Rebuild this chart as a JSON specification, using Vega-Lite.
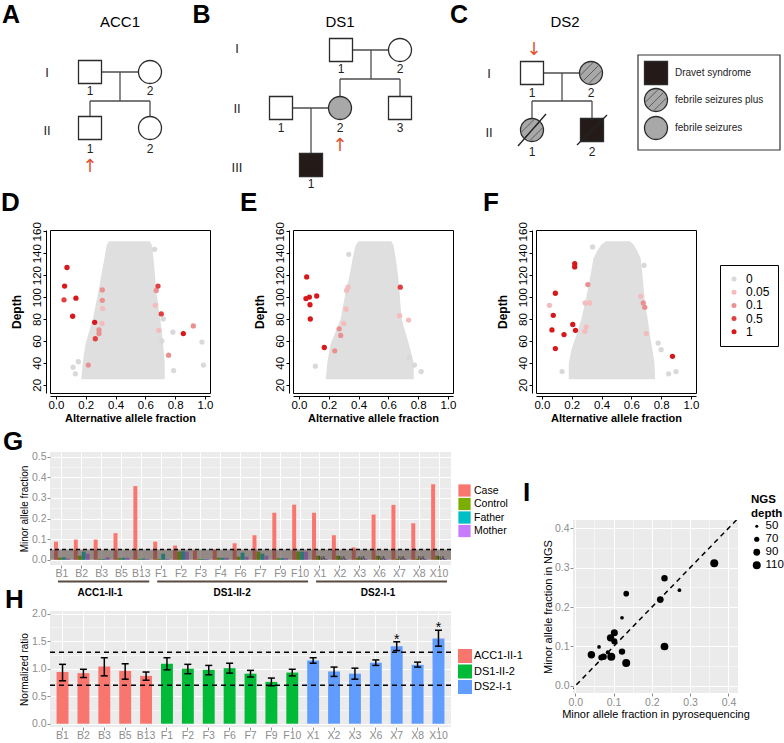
{
"$schema":"https://vega.github.io/schema/vega-lite/v6.json",
"background":"white",
"padding":0,
"spacing":-2,
"config":{
 "font":"Liberation Sans",
 "view":{"stroke":null},
 "title":{"fontSize":26,"fontWeight":"bold","anchor":"start","frame":"group","baseline":"alphabetic","color":"black","font":"Liberation Sans"},
 "axis":{"labelFont":"Liberation Sans","titleFont":"Liberation Sans","labelOverlap":false},
 "legend":{"labelFont":"Liberation Sans","titleFont":"Liberation Sans"}
},
"resolve":{"scale":{"color":"independent","size":"independent","shape":"independent","fill":"independent"},"legend":{"color":"independent","size":"independent","shape":"independent","fill":"independent"}},
"datasets":{
 "pedMembers":[
  {"x":9.1,"y":7.2,"sex":"male","st":"none"},
  {"x":15.1,"y":7.2,"sex":"female","st":"none"},
  {"x":9.1,"y":12.8,"sex":"male","st":"none"},
  {"x":15.1,"y":12.8,"sex":"female","st":"none"},
  {"x":34.2,"y":5.0,"sex":"male","st":"none"},
  {"x":40.1,"y":5.0,"sex":"female","st":"none"},
  {"x":28.2,"y":10.8,"sex":"male","st":"none"},
  {"x":34.1,"y":10.8,"sex":"female","st":"FS"},
  {"x":40.1,"y":10.8,"sex":"male","st":"none"},
  {"x":31.2,"y":16.5,"sex":"male","st":"DS"},
  {"x":53.3,"y":7.3,"sex":"male","st":"none"},
  {"x":59.2,"y":7.3,"sex":"female","st":"FSplus"},
  {"x":53.3,"y":13.0,"sex":"female","st":"FSplus"},
  {"x":59.3,"y":13.0,"sex":"male","st":"DS"},
  {"x":65.7,"y":7.3,"sex":"male","st":"DS"},
  {"x":65.7,"y":10.0,"sex":"female","st":"FSplus"},
  {"x":65.7,"y":12.8,"sex":"female","st":"FS"}
 ],
 "pedLines":[
  {"kind":"conn","x1":10.3,"y1":7.2,"x2":13.9,"y2":7.2},
  {"kind":"conn","x1":12.1,"y1":7.2,"x2":12.1,"y2":10.1},
  {"kind":"conn","x1":9.1,"y1":10.1,"x2":15.1,"y2":10.1},
  {"kind":"conn","x1":9.1,"y1":10.1,"x2":9.1,"y2":11.65},
  {"kind":"conn","x1":15.1,"y1":10.1,"x2":15.1,"y2":11.65},
  {"kind":"conn","x1":35.35,"y1":5.0,"x2":38.95,"y2":5.0},
  {"kind":"conn","x1":37.2,"y1":5.0,"x2":37.2,"y2":7.9},
  {"kind":"conn","x1":34.1,"y1":7.9,"x2":40.1,"y2":7.9},
  {"kind":"conn","x1":34.1,"y1":7.9,"x2":34.1,"y2":9.65},
  {"kind":"conn","x1":40.1,"y1":7.9,"x2":40.1,"y2":9.65},
  {"kind":"conn","x1":29.35,"y1":10.8,"x2":32.95,"y2":10.8},
  {"kind":"conn","x1":31.2,"y1":10.8,"x2":31.2,"y2":15.35},
  {"kind":"conn","x1":54.45,"y1":7.3,"x2":58.05,"y2":7.3},
  {"kind":"conn","x1":56.3,"y1":7.3,"x2":56.3,"y2":10.1},
  {"kind":"conn","x1":53.3,"y1":10.1,"x2":59.3,"y2":10.1},
  {"kind":"conn","x1":53.3,"y1":10.1,"x2":53.3,"y2":11.85},
  {"kind":"conn","x1":59.3,"y1":10.1,"x2":59.3,"y2":11.85},
  {"kind":"hatch","x1":58.45,"y1":8.05,"x2":59.95,"y2":6.55},
  {"kind":"hatch","x1":58.99,"y1":8.35,"x2":60.25,"y2":7.09},
  {"kind":"hatch","x1":58.15,"y1":7.51,"x2":59.41,"y2":6.25},
  {"kind":"hatch","x1":52.55,"y1":13.75,"x2":54.05,"y2":12.25},
  {"kind":"hatch","x1":53.09,"y1":14.05,"x2":54.35,"y2":12.79},
  {"kind":"hatch","x1":52.25,"y1":13.21,"x2":53.51,"y2":11.95},
  {"kind":"hatch","x1":64.95,"y1":10.75,"x2":66.45,"y2":9.25},
  {"kind":"hatch","x1":65.49,"y1":11.05,"x2":66.75,"y2":9.79},
  {"kind":"hatch","x1":64.65,"y1":10.21,"x2":65.91,"y2":8.95},
  {"kind":"slash","x1":51.9,"y1":14.6,"x2":54.7,"y2":11.4},
  {"kind":"slash","x1":57.8,"y1":14.5,"x2":60.8,"y2":11.5}
 ],
 "pedBox":[{"x1":63.9,"y1":5.5,"x2":78.1,"y2":15.0}],
 "pedTexts":[
  {"kind":"letter","label":"A","x":1.2,"y":2.3},
  {"kind":"letter","label":"B","x":20.25,"y":2.3},
  {"kind":"letter","label":"C","x":46.0,"y":2.3},
  {"kind":"title","label":"ACC1","x":12.1,"y":2.7},
  {"kind":"title","label":"DS1","x":34.1,"y":2.7},
  {"kind":"title","label":"DS2","x":56.6,"y":2.7},
  {"kind":"gen","label":"I","x":4.8,"y":7.7},
  {"kind":"gen","label":"II","x":4.8,"y":13.5},
  {"kind":"gen","label":"I","x":23.8,"y":5.3},
  {"kind":"gen","label":"II","x":23.8,"y":11.3},
  {"kind":"gen","label":"III","x":23.8,"y":17.2},
  {"kind":"gen","label":"I","x":49.0,"y":7.8},
  {"kind":"gen","label":"II","x":49.0,"y":13.7},
  {"kind":"num","label":"1","x":9.1,"y":9.5},
  {"kind":"num","label":"2","x":15.1,"y":9.5},
  {"kind":"num","label":"1","x":9.1,"y":15.3},
  {"kind":"num","label":"2","x":15.1,"y":15.3},
  {"kind":"num","label":"1","x":34.2,"y":7.3},
  {"kind":"num","label":"2","x":40.1,"y":7.3},
  {"kind":"num","label":"1","x":28.2,"y":13.2},
  {"kind":"num","label":"2","x":34.1,"y":13.2},
  {"kind":"num","label":"3","x":40.1,"y":13.2},
  {"kind":"num","label":"1","x":31.2,"y":18.8},
  {"kind":"num","label":"1","x":53.3,"y":9.7},
  {"kind":"num","label":"2","x":59.2,"y":9.7},
  {"kind":"num","label":"1","x":53.3,"y":15.6},
  {"kind":"num","label":"2","x":59.3,"y":15.6},
  {"kind":"leg","label":"Dravet syndrome","x":67.6,"y":7.3},
  {"kind":"leg","label":"febrile seizures plus","x":67.6,"y":10.0},
  {"kind":"leg","label":"febrile seizures","x":67.6,"y":12.8},
  {"kind":"arrow","label":"↑","x":9.1,"y":16.7},
  {"kind":"arrow","label":"↑","x":34.1,"y":14.6},
  {"kind":"arrow","label":"↓","x":53.5,"y":4.95}
 ],
 "afCloud":[
  {"panel":"D","depth":25,"lo":0.17,"hi":0.73},
  {"panel":"D","depth":40,"lo":0.18,"hi":0.73},
  {"panel":"D","depth":56,"lo":0.197,"hi":0.72},
  {"panel":"D","depth":70,"lo":0.225,"hi":0.71},
  {"panel":"D","depth":80,"lo":0.248,"hi":0.70},
  {"panel":"D","depth":95,"lo":0.27,"hi":0.685},
  {"panel":"D","depth":105,"lo":0.285,"hi":0.673},
  {"panel":"D","depth":120,"lo":0.304,"hi":0.665},
  {"panel":"D","depth":135,"lo":0.325,"hi":0.655},
  {"panel":"D","depth":147,"lo":0.34,"hi":0.645},
  {"panel":"D","depth":151,"lo":0.355,"hi":0.63},
  {"panel":"E","depth":25,"lo":0.18,"hi":0.77},
  {"panel":"E","depth":40,"lo":0.19,"hi":0.77},
  {"panel":"E","depth":56,"lo":0.21,"hi":0.74},
  {"panel":"E","depth":70,"lo":0.25,"hi":0.71},
  {"panel":"E","depth":80,"lo":0.28,"hi":0.69},
  {"panel":"E","depth":95,"lo":0.30,"hi":0.68},
  {"panel":"E","depth":105,"lo":0.315,"hi":0.675},
  {"panel":"E","depth":120,"lo":0.34,"hi":0.665},
  {"panel":"E","depth":135,"lo":0.36,"hi":0.65},
  {"panel":"E","depth":147,"lo":0.38,"hi":0.635},
  {"panel":"E","depth":151,"lo":0.40,"hi":0.62},
  {"panel":"F","depth":25,"lo":0.18,"hi":0.76},
  {"panel":"F","depth":40,"lo":0.18,"hi":0.755},
  {"panel":"F","depth":53,"lo":0.20,"hi":0.74},
  {"panel":"F","depth":65,"lo":0.23,"hi":0.725},
  {"panel":"F","depth":80,"lo":0.265,"hi":0.71},
  {"panel":"F","depth":95,"lo":0.29,"hi":0.69},
  {"panel":"F","depth":105,"lo":0.305,"hi":0.685},
  {"panel":"F","depth":120,"lo":0.326,"hi":0.675},
  {"panel":"F","depth":135,"lo":0.345,"hi":0.663},
  {"panel":"F","depth":142,"lo":0.37,"hi":0.64},
  {"panel":"F","depth":148,"lo":0.40,"hi":0.615},
  {"panel":"F","depth":151,"lo":0.43,"hi":0.59}
 ],
 "afPts":[
  {"panel":"D","af":0.662,"depth":143.6,"level":"0"},
  {"panel":"D","af":0.13,"depth":30,"level":"0"},
  {"panel":"D","af":0.79,"depth":33,"level":"0"},
  {"panel":"D","af":0.98,"depth":59,"level":"0"},
  {"panel":"D","af":0.99,"depth":38,"level":"0"},
  {"panel":"D","af":0.785,"depth":68,"level":"0"},
  {"panel":"D","af":0.115,"depth":36,"level":"0"},
  {"panel":"D","af":0.15,"depth":41,"level":"0"},
  {"panel":"D","af":0.72,"depth":80,"level":"0"},
  {"panel":"D","af":0.71,"depth":60,"level":"0"},
  {"panel":"D","af":0.313,"depth":89.5,"level":"0.05"},
  {"panel":"D","af":0.309,"depth":76,"level":"0.05"},
  {"panel":"D","af":0.667,"depth":92.5,"level":"0.05"},
  {"panel":"D","af":0.69,"depth":69.7,"level":"0.05"},
  {"panel":"D","af":0.217,"depth":38,"level":"0.1"},
  {"panel":"D","af":0.311,"depth":106.5,"level":"0.1"},
  {"panel":"D","af":0.311,"depth":97,"level":"0.1"},
  {"panel":"D","af":0.289,"depth":70,"level":"0.1"},
  {"panel":"D","af":0.289,"depth":66.7,"level":"0.1"},
  {"panel":"D","af":0.673,"depth":106,"level":"0.1"},
  {"panel":"D","af":0.756,"depth":47,"level":"0.1"},
  {"panel":"D","af":0.922,"depth":73.7,"level":"0.1"},
  {"panel":"D","af":0.054,"depth":97.5,"level":"0.5"},
  {"panel":"D","af":0.264,"depth":62,"level":"0.5"},
  {"panel":"D","af":0.685,"depth":110,"level":"0.5"},
  {"panel":"D","af":0.707,"depth":84.6,"level":"0.5"},
  {"panel":"D","af":0.074,"depth":127,"level":"1"},
  {"panel":"D","af":0.058,"depth":110,"level":"1"},
  {"panel":"D","af":0.134,"depth":99,"level":"1"},
  {"panel":"D","af":0.112,"depth":82.5,"level":"1"},
  {"panel":"D","af":0.26,"depth":77,"level":"1"},
  {"panel":"D","af":0.855,"depth":66.7,"level":"1"},
  {"panel":"E","af":0.11,"depth":37,"level":"0"},
  {"panel":"E","af":0.74,"depth":45,"level":"0"},
  {"panel":"E","af":0.775,"depth":38,"level":"0"},
  {"panel":"E","af":0.82,"depth":32,"level":"0"},
  {"panel":"E","af":0.334,"depth":139,"level":"0"},
  {"panel":"E","af":0.32,"depth":106,"level":"0.05"},
  {"panel":"E","af":0.33,"depth":109,"level":"0.05"},
  {"panel":"E","af":0.316,"depth":89,"level":"0.05"},
  {"panel":"E","af":0.3,"depth":76,"level":"0.05"},
  {"panel":"E","af":0.675,"depth":83,"level":"0.05"},
  {"panel":"E","af":0.736,"depth":79,"level":"0.05"},
  {"panel":"E","af":0.24,"depth":51,"level":"0.1"},
  {"panel":"E","af":0.27,"depth":71,"level":"0.1"},
  {"panel":"E","af":0.28,"depth":65,"level":"0.1"},
  {"panel":"E","af":0.68,"depth":109,"level":"0.5"},
  {"panel":"E","af":0.052,"depth":118.4,"level":"1"},
  {"panel":"E","af":0.047,"depth":98.6,"level":"1"},
  {"panel":"E","af":0.07,"depth":100,"level":"1"},
  {"panel":"E","af":0.119,"depth":101,"level":"1"},
  {"panel":"E","af":0.074,"depth":93,"level":"1"},
  {"panel":"E","af":0.076,"depth":80,"level":"1"},
  {"panel":"E","af":0.17,"depth":54,"level":"1"},
  {"panel":"F","af":0.9,"depth":32,"level":"0"},
  {"panel":"F","af":0.85,"depth":30,"level":"0"},
  {"panel":"F","af":0.34,"depth":145.7,"level":"0"},
  {"panel":"F","af":0.685,"depth":129,"level":"0"},
  {"panel":"F","af":0.135,"depth":32,"level":"0"},
  {"panel":"F","af":0.78,"depth":58,"level":"0"},
  {"panel":"F","af":0.8,"depth":52,"level":"0"},
  {"panel":"F","af":0.05,"depth":92.5,"level":"0.05"},
  {"panel":"F","af":0.29,"depth":94.6,"level":"0.05"},
  {"panel":"F","af":0.32,"depth":94.6,"level":"0.05"},
  {"panel":"F","af":0.288,"depth":68.8,"level":"0.05"},
  {"panel":"F","af":0.297,"depth":72.8,"level":"0.05"},
  {"panel":"F","af":0.663,"depth":100.7,"level":"0.05"},
  {"panel":"F","af":0.70,"depth":66.7,"level":"0.05"},
  {"panel":"F","af":0.308,"depth":111.4,"level":"0.1"},
  {"panel":"F","af":0.68,"depth":94.6,"level":"0.1"},
  {"panel":"F","af":0.69,"depth":90.7,"level":"0.1"},
  {"panel":"F","af":0.22,"depth":130.5,"level":"1"},
  {"panel":"F","af":0.22,"depth":127.5,"level":"1"},
  {"panel":"F","af":0.09,"depth":103.5,"level":"1"},
  {"panel":"F","af":0.076,"depth":83.4,"level":"1"},
  {"panel":"F","af":0.067,"depth":70,"level":"1"},
  {"panel":"F","af":0.09,"depth":53,"level":"1"},
  {"panel":"F","af":0.148,"depth":65.8,"level":"1"},
  {"panel":"F","af":0.207,"depth":75,"level":"1"},
  {"panel":"F","af":0.225,"depth":69.7,"level":"1"},
  {"panel":"F","af":0.876,"depth":46,"level":"1"}
 ],
 "gData":[
  {"sample":"B1","grp":"Case","maf":0.088},{"sample":"B1","grp":"Control","maf":0.01},{"sample":"B1","grp":"Father","maf":0.012},{"sample":"B1","grp":"Mother","maf":0.006},
  {"sample":"B2","grp":"Case","maf":0.098},{"sample":"B2","grp":"Control","maf":0.02},{"sample":"B2","grp":"Father","maf":0.04},{"sample":"B2","grp":"Mother","maf":0.03},
  {"sample":"B3","grp":"Case","maf":0.098},{"sample":"B3","grp":"Control","maf":0.004},{"sample":"B3","grp":"Father","maf":0.004},{"sample":"B3","grp":"Mother","maf":0.012},
  {"sample":"B5","grp":"Case","maf":0.129},{"sample":"B5","grp":"Control","maf":0.008},{"sample":"B5","grp":"Father","maf":0.01},{"sample":"B5","grp":"Mother","maf":0.01},
  {"sample":"B13","grp":"Case","maf":0.357},{"sample":"B13","grp":"Control","maf":0.004},{"sample":"B13","grp":"Father","maf":0.006},{"sample":"B13","grp":"Mother","maf":0.004},
  {"sample":"F1","grp":"Case","maf":0.088},{"sample":"F1","grp":"Control","maf":0.004},{"sample":"F1","grp":"Father","maf":0.03},{"sample":"F1","grp":"Mother","maf":0.004},
  {"sample":"F2","grp":"Case","maf":0.069},{"sample":"F2","grp":"Control","maf":0.04},{"sample":"F2","grp":"Father","maf":0.042},{"sample":"F2","grp":"Mother","maf":0.04},
  {"sample":"F3","grp":"Case","maf":0.045},{"sample":"F3","grp":"Control","maf":0.004},{"sample":"F3","grp":"Father","maf":0.004},{"sample":"F3","grp":"Mother","maf":0.004},
  {"sample":"F4","grp":"Case","maf":0.05},{"sample":"F4","grp":"Control","maf":0.01},{"sample":"F4","grp":"Father","maf":0.01},{"sample":"F4","grp":"Mother","maf":0.01},
  {"sample":"F6","grp":"Case","maf":0.08},{"sample":"F6","grp":"Control","maf":0.015},{"sample":"F6","grp":"Father","maf":0.035},{"sample":"F6","grp":"Mother","maf":0.015},
  {"sample":"F7","grp":"Case","maf":0.119},{"sample":"F7","grp":"Control","maf":0.04},{"sample":"F7","grp":"Father","maf":0.03},{"sample":"F7","grp":"Mother","maf":0.02},
  {"sample":"F9","grp":"Case","maf":0.228},{"sample":"F9","grp":"Control","maf":0.008},{"sample":"F9","grp":"Father","maf":0.008},{"sample":"F9","grp":"Mother","maf":0.008},
  {"sample":"F10","grp":"Case","maf":0.267},{"sample":"F10","grp":"Control","maf":0.04},{"sample":"F10","grp":"Father","maf":0.04},{"sample":"F10","grp":"Mother","maf":0.04},
  {"sample":"X1","grp":"Case","maf":0.228},{"sample":"X1","grp":"Control","maf":0.02},{"sample":"X1","grp":"Father","maf":null},{"sample":"X1","grp":"Mother","maf":0.004},
  {"sample":"X2","grp":"Case","maf":0.119},{"sample":"X2","grp":"Control","maf":0.02},{"sample":"X2","grp":"Father","maf":null},{"sample":"X2","grp":"Mother","maf":0.004},
  {"sample":"X3","grp":"Case","maf":0.06},{"sample":"X3","grp":"Control","maf":0.01},{"sample":"X3","grp":"Father","maf":null},{"sample":"X3","grp":"Mother","maf":0.004},
  {"sample":"X6","grp":"Case","maf":0.219},{"sample":"X6","grp":"Control","maf":0.02},{"sample":"X6","grp":"Father","maf":null},{"sample":"X6","grp":"Mother","maf":0.004},
  {"sample":"X7","grp":"Case","maf":0.266},{"sample":"X7","grp":"Control","maf":0.005},{"sample":"X7","grp":"Father","maf":null},{"sample":"X7","grp":"Mother","maf":0.004},
  {"sample":"X8","grp":"Case","maf":0.177},{"sample":"X8","grp":"Control","maf":0.005},{"sample":"X8","grp":"Father","maf":null},{"sample":"X8","grp":"Mother","maf":0.004},
  {"sample":"X10","grp":"Case","maf":0.366},{"sample":"X10","grp":"Control","maf":0.02},{"sample":"X10","grp":"Father","maf":null},{"sample":"X10","grp":"Mother","maf":0.004}
 ],
 "gBand":[{"lo":0,"hi":0.05}],
 "gBrackets":[
  {"start":"B1","end":"B13","at":"B3","fam":"ACC1-II-1"},
  {"start":"F1","end":"F10","at":"F6","fam":"DS1-II-2"},
  {"start":"X1","end":"X10","at":"X6","fam":"DS2-I-1"}
 ],
 "hData":[
  {"sample":"B1","family":"ACC1-II-1","ratio":0.94,"lo":0.78,"hi":1.08,"sig":""},
  {"sample":"B2","family":"ACC1-II-1","ratio":0.92,"lo":0.84,"hi":0.99,"sig":""},
  {"sample":"B3","family":"ACC1-II-1","ratio":1.04,"lo":0.87,"hi":1.2,"sig":""},
  {"sample":"B5","family":"ACC1-II-1","ratio":0.96,"lo":0.81,"hi":1.09,"sig":""},
  {"sample":"B13","family":"ACC1-II-1","ratio":0.87,"lo":0.79,"hi":0.94,"sig":""},
  {"sample":"F1","family":"DS1-II-2","ratio":1.09,"lo":0.98,"hi":1.2,"sig":""},
  {"sample":"F2","family":"DS1-II-2","ratio":1.0,"lo":0.91,"hi":1.08,"sig":""},
  {"sample":"F3","family":"DS1-II-2","ratio":0.98,"lo":0.89,"hi":1.06,"sig":""},
  {"sample":"F6","family":"DS1-II-2","ratio":1.01,"lo":0.92,"hi":1.1,"sig":""},
  {"sample":"F7","family":"DS1-II-2","ratio":0.91,"lo":0.85,"hi":0.97,"sig":""},
  {"sample":"F9","family":"DS1-II-2","ratio":0.76,"lo":0.69,"hi":0.83,"sig":""},
  {"sample":"F10","family":"DS1-II-2","ratio":0.93,"lo":0.87,"hi":0.99,"sig":""},
  {"sample":"X1","family":"DS2-I-1","ratio":1.15,"lo":1.1,"hi":1.2,"sig":""},
  {"sample":"X2","family":"DS2-I-1","ratio":0.95,"lo":0.86,"hi":1.03,"sig":""},
  {"sample":"X3","family":"DS2-I-1","ratio":0.91,"lo":0.81,"hi":1.01,"sig":""},
  {"sample":"X6","family":"DS2-I-1","ratio":1.11,"lo":1.06,"hi":1.16,"sig":""},
  {"sample":"X7","family":"DS2-I-1","ratio":1.41,"lo":1.33,"hi":1.49,"sig":"*"},
  {"sample":"X8","family":"DS2-I-1","ratio":1.07,"lo":1.03,"hi":1.12,"sig":""},
  {"sample":"X10","family":"DS2-I-1","ratio":1.55,"lo":1.41,"hi":1.7,"sig":"*"}
 ],
 "hLines":[{"v":0.7},{"v":1.3}],
 "iData":[
  {"pyro":0.363,"ngs":0.311,"depth":110},
  {"pyro":0.233,"ngs":0.273,"depth":85},
  {"pyro":0.272,"ngs":0.243,"depth":55},
  {"pyro":0.222,"ngs":0.219,"depth":90},
  {"pyro":0.133,"ngs":0.234,"depth":75},
  {"pyro":0.122,"ngs":0.173,"depth":55},
  {"pyro":0.233,"ngs":0.100,"depth":105},
  {"pyro":0.102,"ngs":0.135,"depth":95},
  {"pyro":0.092,"ngs":0.122,"depth":100},
  {"pyro":0.102,"ngs":0.113,"depth":80},
  {"pyro":0.062,"ngs":0.099,"depth":55},
  {"pyro":0.122,"ngs":0.087,"depth":85},
  {"pyro":0.042,"ngs":0.079,"depth":100},
  {"pyro":0.074,"ngs":0.074,"depth":85},
  {"pyro":0.094,"ngs":0.074,"depth":110},
  {"pyro":0.085,"ngs":0.085,"depth":60},
  {"pyro":0.068,"ngs":0.072,"depth":80},
  {"pyro":0.133,"ngs":0.058,"depth":110}
 ],
 "iDiag":[{"x1":-0.03,"y1":-0.03,"x2":0.44,"y2":0.44}],
 "empty":[]
},
"vconcat":[
 {
  "width":733,"height":190,
  "layer":[
   {"data":{"name":"pedLines"},"transform":[{"filter":"datum.kind=='conn'"}],"mark":{"type":"rule","color":"#4d4d4d","strokeWidth":1.3},
    "encoding":{"x":{"field":"x1","type":"quantitative","scale":{"domain":[5.1,78.4],"nice":false,"zero":false},"axis":null},"y":{"field":"y1","type":"quantitative","scale":{"domain":[0,19],"nice":false,"zero":false,"reverse":true},"axis":null},"x2":{"field":"x2"},"y2":{"field":"y2"}}},
   {"data":{"name":"pedBox"},"mark":{"type":"rect","filled":false,"color":"#333333","strokeWidth":1.2},
    "encoding":{"x":{"field":"x1","type":"quantitative"},"y":{"field":"y1","type":"quantitative"},"x2":{"field":"x2"},"y2":{"field":"y2"}}},
   {"data":{"name":"pedMembers"},"mark":{"type":"point","filled":true,"stroke":"#2b2b2b","strokeWidth":1.3,"size":529,"opacity":1},
    "encoding":{"x":{"field":"x","type":"quantitative"},"y":{"field":"y","type":"quantitative"},
     "shape":{"field":"sex","type":"nominal","scale":{"domain":["male","female"],"range":["square","circle"]},"legend":null},
     "fill":{"field":"st","type":"nominal","scale":{"domain":["none","FS","FSplus","DS"],"range":["#ffffff","#a8a8a8","#a8a8a8","#241a18"]},"legend":null}}},
   {"data":{"name":"pedLines"},"transform":[{"filter":"datum.kind=='hatch'"}],"mark":{"type":"rule","color":"#555555","strokeWidth":0.9},
    "encoding":{"x":{"field":"x1","type":"quantitative"},"y":{"field":"y1","type":"quantitative"},"x2":{"field":"x2"},"y2":{"field":"y2"}}},
   {"data":{"name":"pedLines"},"transform":[{"filter":"datum.kind=='slash'"}],"mark":{"type":"rule","color":"#222222","strokeWidth":1.3},
    "encoding":{"x":{"field":"x1","type":"quantitative"},"y":{"field":"y1","type":"quantitative"},"x2":{"field":"x2"},"y2":{"field":"y2"}}},
   {"data":{"name":"pedTexts"},"transform":[{"filter":"datum.kind=='letter'"}],"mark":{"type":"text","fontSize":25,"fontWeight":"bold","align":"center","baseline":"alphabetic","color":"black"},
    "encoding":{"x":{"field":"x","type":"quantitative"},"y":{"field":"y","type":"quantitative"},"text":{"field":"label"}}},
   {"data":{"name":"pedTexts"},"transform":[{"filter":"datum.kind=='title'"}],"mark":{"type":"text","fontSize":15,"align":"center","baseline":"alphabetic","color":"black"},
    "encoding":{"x":{"field":"x","type":"quantitative"},"y":{"field":"y","type":"quantitative"},"text":{"field":"label"}}},
   {"data":{"name":"pedTexts"},"transform":[{"filter":"datum.kind=='gen'"}],"mark":{"type":"text","fontSize":13,"align":"center","baseline":"alphabetic","color":"#222222"},
    "encoding":{"x":{"field":"x","type":"quantitative"},"y":{"field":"y","type":"quantitative"},"text":{"field":"label"}}},
   {"data":{"name":"pedTexts"},"transform":[{"filter":"datum.kind=='num'"}],"mark":{"type":"text","fontSize":12,"align":"center","baseline":"alphabetic","color":"#222222"},
    "encoding":{"x":{"field":"x","type":"quantitative"},"y":{"field":"y","type":"quantitative"},"text":{"field":"label"}}},
   {"data":{"name":"pedTexts"},"transform":[{"filter":"datum.kind=='leg'"}],"mark":{"type":"text","fontSize":10,"align":"left","baseline":"middle","color":"#222222"},
    "encoding":{"x":{"field":"x","type":"quantitative"},"y":{"field":"y","type":"quantitative"},"text":{"field":"label"}}},
   {"data":{"name":"pedTexts"},"transform":[{"filter":"datum.kind=='arrow'"}],"mark":{"type":"text","fontSize":18,"font":"DejaVu Sans","align":"center","baseline":"middle","color":"#e0532f"},
    "encoding":{"x":{"field":"x","type":"quantitative"},"y":{"field":"y","type":"quantitative"},"text":{"field":"label"}}}
  ]
 },
 {
  "spacing":4,
  "resolve":{"scale":{"color":"independent","size":"independent"},"legend":{"color":"independent","size":"independent"}},
  "vconcat":[
   {
    "bounds":"flush",
    "spacing":83,
    "resolve":{"scale":{"color":"independent"},"legend":{"color":"independent"}},
    "hconcat":[
     {
      "width":160,"height":163,
      "view":{"stroke":"black","strokeWidth":1},
      "title":{"text":"D","dx":-49,"offset":6},
      "layer":[
       {"data":{"name":"afCloud"},"transform":[{"filter":"datum.panel=='D'"}],"mark":{"type":"area","orient":"horizontal","color":"#dfdfdf"},
        "encoding":{
         "y":{"field":"depth","type":"quantitative","scale":{"domain":[12.5,161.2],"nice":false,"zero":false},"axis":{"values":[20,40,60,80,100,120,140,160],"tickCount":100,"title":"Depth","titleFontSize":12,"titleFontWeight":"bold","titleColor":"black","titlePadding":8,"labelAngle":270,"labelAlign":"center","labelBaseline":"bottom","labelFontSize":11.5,"labelColor":"black","tickColor":"black","tickSize":3,"domainColor":"black","offset":4,"grid":false,"labelPadding":1,"labelOverlap":false}},
         "x":{"field":"lo","type":"quantitative","scale":{"domain":[-0.04,1.034],"nice":false,"zero":false},"axis":{"values":[0,0.2,0.4,0.6,0.8,1],"tickCount":100,"format":".1f","title":"Alternative allele fraction","titleFontSize":11,"titleFontWeight":"bold","titleColor":"black","titlePadding":1,"labelFontSize":11.5,"labelColor":"black","tickColor":"black","tickSize":3,"domainColor":"black","offset":3,"grid":false,"labelPadding":0.5,"labelFlush":false,"labelOverlap":false}},
         "x2":{"field":"hi"}}},
       {"data":{"name":"afPts"},"transform":[{"filter":"datum.panel=='D'"}],"mark":{"type":"circle","size":28,"opacity":1},
        "encoding":{"x":{"field":"af","type":"quantitative","title":"Alternative allele fraction"},"y":{"field":"depth","type":"quantitative","title":"Depth"},
         "color":{"field":"level","type":"nominal","scale":{"domain":["0","0.05","0.1","0.5","1"],"range":["#d9d9d9","#f4bcbc","#eb9090","#e24040","#d7191c"]},"legend":null}}}
      ]
     },
     {
      "width":160,"height":163,
      "view":{"stroke":"black","strokeWidth":1},
      "title":{"text":"E","dx":-53,"offset":6},
      "layer":[
       {"data":{"name":"afCloud"},"transform":[{"filter":"datum.panel=='E'"}],"mark":{"type":"area","orient":"horizontal","color":"#dfdfdf"},
        "encoding":{
         "y":{"field":"depth","type":"quantitative","scale":{"domain":[12.5,161.2],"nice":false,"zero":false},"axis":{"values":[20,40,60,80,100,120,140,160],"tickCount":100,"title":"Depth","titleFontSize":12,"titleFontWeight":"bold","titleColor":"black","titlePadding":8,"labelAngle":270,"labelAlign":"center","labelBaseline":"bottom","labelFontSize":11.5,"labelColor":"black","tickColor":"black","tickSize":3,"domainColor":"black","offset":4,"grid":false,"labelPadding":1,"labelOverlap":false}},
         "x":{"field":"lo","type":"quantitative","scale":{"domain":[-0.04,1.034],"nice":false,"zero":false},"axis":{"values":[0,0.2,0.4,0.6,0.8,1],"tickCount":100,"format":".1f","title":"Alternative allele fraction","titleFontSize":11,"titleFontWeight":"bold","titleColor":"black","titlePadding":1,"labelFontSize":11.5,"labelColor":"black","tickColor":"black","tickSize":3,"domainColor":"black","offset":3,"grid":false,"labelPadding":0.5,"labelFlush":false,"labelOverlap":false}},
         "x2":{"field":"hi"}}},
       {"data":{"name":"afPts"},"transform":[{"filter":"datum.panel=='E'"}],"mark":{"type":"circle","size":28,"opacity":1},
        "encoding":{"x":{"field":"af","type":"quantitative","title":"Alternative allele fraction"},"y":{"field":"depth","type":"quantitative","title":"Depth"},
         "color":{"field":"level","type":"nominal","scale":{"domain":["0","0.05","0.1","0.5","1"],"range":["#d9d9d9","#f4bcbc","#eb9090","#e24040","#d7191c"]},"legend":null}}}
      ]
     },
     {
      "width":160,"height":163,
      "view":{"stroke":"black","strokeWidth":1},
      "title":{"text":"F","dx":-53,"offset":6},
      "layer":[
       {"data":{"name":"afCloud"},"transform":[{"filter":"datum.panel=='F'"}],"mark":{"type":"area","orient":"horizontal","color":"#dfdfdf"},
        "encoding":{
         "y":{"field":"depth","type":"quantitative","scale":{"domain":[12.5,161.2],"nice":false,"zero":false},"axis":{"values":[20,40,60,80,100,120,140,160],"tickCount":100,"title":"Depth","titleFontSize":12,"titleFontWeight":"bold","titleColor":"black","titlePadding":8,"labelAngle":270,"labelAlign":"center","labelBaseline":"bottom","labelFontSize":11.5,"labelColor":"black","tickColor":"black","tickSize":3,"domainColor":"black","offset":4,"grid":false,"labelPadding":1,"labelOverlap":false}},
         "x":{"field":"lo","type":"quantitative","scale":{"domain":[-0.04,1.034],"nice":false,"zero":false},"axis":{"values":[0,0.2,0.4,0.6,0.8,1],"tickCount":100,"format":".1f","title":"Alternative allele fraction","titleFontSize":11,"titleFontWeight":"bold","titleColor":"black","titlePadding":1,"labelFontSize":11.5,"labelColor":"black","tickColor":"black","tickSize":3,"domainColor":"black","offset":3,"grid":false,"labelPadding":0.5,"labelFlush":false,"labelOverlap":false}},
         "x2":{"field":"hi"}}},
       {"data":{"name":"afPts"},"transform":[{"filter":"datum.panel=='F'"}],"mark":{"type":"circle","size":28,"opacity":1},
        "encoding":{"x":{"field":"af","type":"quantitative","title":"Alternative allele fraction"},"y":{"field":"depth","type":"quantitative","title":"Depth"},
         "color":{"field":"level","type":"nominal","scale":{"domain":["0","0.05","0.1","0.5","1"],"range":["#d9d9d9","#f4bcbc","#eb9090","#e24040","#d7191c"]},
          "legend":{"orient":"none","legendX":184,"legendY":35,"title":null,"strokeColor":"black","fillColor":"white","padding":8,"symbolType":"circle","symbolSize":25,"symbolStrokeWidth":0,"labelFontSize":12,"labelColor":"black","rowPadding":1.2,"labelOffset":6}}}}
      ]
     }
    ]
   },
   {
    "spacing":0,
    "resolve":{"scale":{"color":"independent","size":"independent"},"legend":{"color":"independent","size":"independent"}},
    "hconcat":[
     {
      "bounds":"flush",
      "spacing":46,
      "resolve":{"scale":{"color":"independent"},"legend":{"color":"independent"}},
      "vconcat":[
       {
        "width":401,"height":113,
        "view":{"fill":"#ebebeb","stroke":null},
        "title":{"text":"G","dx":-47,"offset":-3},
        "layer":[
         {"data":{"name":"gData"},"mark":{"type":"bar"},
          "encoding":{
           "x":{"field":"sample","type":"nominal","title":null,"scale":{"domain":["B1","B2","B3","B5","B13","F1","F2","F3","F4","F6","F7","F9","F10","X1","X2","X3","X6","X7","X8","X10"],"paddingInner":0.2,"paddingOuter":0.2},
            "axis":{"title":null,"labelColor":"#8c8c8c","labelFontSize":10.5,"labelAngle":0,"labelOverlap":false,"tickColor":"#8c8c8c","tickSize":3,"domain":false,"grid":true,"gridColor":"#ffffff","gridWidth":1.1,"labelPadding":0.5,"bandPosition":0.5}},
           "xOffset":{"field":"grp","type":"nominal","scale":{"domain":["Case","Control","Father","Mother"]}},
           "y":{"field":"maf","type":"quantitative","title":"Minor allele fraction","scale":{"domain":[-0.025,0.522],"nice":false,"zero":false},
            "axis":{"title":"Minor allele fraction","titleFontSize":10,"titleFontWeight":"normal","titleColor":"black","titlePadding":2,"values":[0,0.05,0.1,0.15,0.2,0.25,0.3,0.35,0.4,0.45,0.5],"tickCount":100,"labelExpr":"round(datum.value*20)%2==0 ? format(datum.value,'.1f') : ''","labelOverlap":false,"labelColor":"#8c8c8c","labelFontSize":10.5,"tickColor":"#8c8c8c","tickSize":3,"tickOpacity":{"condition":{"test":"round(datum.value*20)%2==1","value":0},"value":1},"domain":false,"grid":true,"gridColor":"#ffffff","gridWidth":{"condition":{"test":"round(datum.value*20)%2==1","value":0.5},"value":1.1},"labelPadding":1}},
           "y2":{"datum":0},
           "color":{"field":"grp","type":"nominal","scale":{"domain":["Case","Control","Father","Mother"],"range":["#F8766D","#7CAE00","#00BFC4","#C77CFF"]},
            "legend":{"orient":"none","legendX":408,"legendY":32,"title":null,"symbolType":"square","symbolSize":150,"symbolStrokeWidth":0,"labelFontSize":10.5,"labelColor":"black","rowPadding":0.5,"labelOffset":3,"padding":0}}}},
         {"data":{"name":"gBand"},"mark":{"type":"rect","color":"#4a3b33","opacity":0.55},
          "encoding":{"y":{"field":"lo","type":"quantitative","title":"Minor allele fraction"},"y2":{"field":"hi"}}},
         {"data":{"name":"gData"},"transform":[{"filter":"datum.maf == null"}],"mark":{"type":"text","fontSize":5,"color":"#222222"},
          "encoding":{"x":{"field":"sample","type":"nominal","title":null},"xOffset":{"field":"grp","type":"nominal"},"y":{"datum":0.008},"text":{"value":"NA"}}},
         {"data":{"name":"gBand"},"mark":{"type":"rule","strokeDash":[4,3],"strokeWidth":1.5,"color":"black"},
          "encoding":{"y":{"field":"hi","type":"quantitative","title":"Minor allele fraction"}}},
         {"data":{"name":"gBrackets"},"mark":{"type":"rule","color":"#5a4a44","strokeWidth":2},
          "encoding":{"x":{"field":"start","type":"nominal","title":null,"bandPosition":0.25},"x2":{"field":"end","bandPosition":1},"y":{"datum":-0.105}}},
         {"data":{"name":"gBrackets"},"transform":[{"filter":"datum.at!='F6'"}],"mark":{"type":"text","fontSize":10,"fontWeight":"bold","color":"black","baseline":"middle","dx":-1.5},
          "encoding":{"x":{"field":"at","type":"nominal","title":null},"y":{"datum":-0.16},"text":{"field":"fam"}}},
         {"data":{"name":"gBrackets"},"transform":[{"filter":"datum.at=='F6'"}],"mark":{"type":"text","fontSize":10,"fontWeight":"bold","color":"black","baseline":"middle","dx":-8.5},
          "encoding":{"x":{"field":"at","type":"nominal","title":null},"y":{"datum":-0.16},"text":{"field":"fam"}}}
        ]
       },
       {
        "width":401,"height":116,
        "view":{"fill":"#ebebeb","stroke":null},
        "title":{"text":"H","dx":-45,"offset":-4},
        "layer":[
         {"data":{"name":"hData"},"mark":{"type":"bar"},
          "encoding":{
           "x":{"field":"sample","type":"nominal","title":null,"scale":{"domain":["B1","B2","B3","B5","B13","F1","F2","F3","F6","F7","F9","F10","X1","X2","X3","X6","X7","X8","X10"],"paddingInner":0.43,"paddingOuter":0.315},
            "axis":{"title":null,"labelColor":"#8c8c8c","labelFontSize":10.5,"labelAngle":0,"labelOverlap":false,"tickColor":"#8c8c8c","tickSize":3,"domain":false,"grid":true,"gridColor":"#ffffff","gridWidth":1.1,"labelPadding":0.5,"bandPosition":0.5}},
           "y":{"field":"ratio","type":"quantitative","title":"Normalized ratio","scale":{"domain":[-0.06,2.05],"nice":false,"zero":false},
            "axis":{"title":"Normalized ratio","titleFontSize":10,"titleFontWeight":"normal","titleColor":"black","titlePadding":2,"values":[0,0.25,0.5,0.75,1,1.25,1.5,1.75,2],"tickCount":100,"labelExpr":"round(datum.value*4)%2==0 ? format(datum.value,'.1f') : ''","labelOverlap":false,"labelColor":"#8c8c8c","labelFontSize":10.5,"tickColor":"#8c8c8c","tickSize":3,"tickOpacity":{"condition":{"test":"round(datum.value*4)%2==1","value":0},"value":1},"domain":false,"grid":true,"gridColor":"#ffffff","gridWidth":{"condition":{"test":"round(datum.value*4)%2==1","value":0.5},"value":1.1},"labelPadding":1}},
           "y2":{"datum":0},
           "color":{"field":"family","type":"nominal","scale":{"domain":["ACC1-II-1","DS1-II-2","DS2-I-1"],"range":["#F8766D","#00BA38","#619CFF"]},
            "legend":{"orient":"none","legendX":408,"legendY":38,"title":null,"symbolType":"square","symbolSize":196,"symbolStrokeWidth":0,"labelFontSize":11,"labelColor":"black","rowPadding":1.5,"labelOffset":2,"padding":0}}}},
         {"data":{"name":"hData"},"mark":{"type":"rule","color":"black","strokeWidth":1.5},
          "encoding":{"x":{"field":"sample","type":"nominal","title":null},"y":{"field":"lo","type":"quantitative","title":"Normalized ratio"},"y2":{"field":"hi"}}},
         {"data":{"name":"hData"},"mark":{"type":"tick","color":"black","thickness":1.5,"size":7,"opacity":1},
          "encoding":{"x":{"field":"sample","type":"nominal","title":null},"y":{"field":"lo","type":"quantitative","title":"Normalized ratio"}}},
         {"data":{"name":"hData"},"mark":{"type":"tick","color":"black","thickness":1.5,"size":7,"opacity":1},
          "encoding":{"x":{"field":"sample","type":"nominal","title":null},"y":{"field":"hi","type":"quantitative","title":"Normalized ratio"}}},
         {"data":{"name":"hLines"},"mark":{"type":"rule","strokeDash":[5,4],"strokeWidth":1.5,"color":"black"},
          "encoding":{"y":{"field":"v","type":"quantitative","title":"Normalized ratio"}}},
         {"data":{"name":"hData"},"transform":[{"filter":"datum.sig != ''"}],"mark":{"type":"text","fontSize":14,"baseline":"alphabetic","dy":2,"color":"black"},
          "encoding":{"x":{"field":"sample","type":"nominal","title":null},"y":{"field":"hi","type":"quantitative","title":"Normalized ratio"},"text":{"field":"sig"}}}
        ]
       }
      ]
     },
     {
      "bounds":"flush",
      "spacing":0,
      "vconcat":[
       {"width":165,"height":68,"data":{"name":"empty"},"mark":{"type":"point","opacity":0},"encoding":{}},
       {
        "width":165,"height":173,
        "view":{"fill":"#ebebeb","stroke":null},
        "title":{"text":"I","dx":-50,"offset":14},
        "layer":[
         {"data":{"name":"iDiag"},"mark":{"type":"rule","strokeDash":[5,4],"strokeWidth":1.5,"color":"black","clip":true},
          "encoding":{
           "x":{"field":"x1","type":"quantitative","title":"Minor allele fraction in pyrosequencing","scale":{"domain":[-0.006,0.425],"nice":false,"zero":false},
            "axis":{"title":"Minor allele fraction in pyrosequencing","titleFontSize":11,"titleFontWeight":"normal","titleColor":"black","titlePadding":1,"values":[0,0.05,0.1,0.15,0.2,0.25,0.3,0.35,0.4],"tickCount":100,"labelExpr":"round(datum.value*20)%2==0 ? format(datum.value,'.1f') : ''","labelOverlap":false,"labelColor":"#8c8c8c","labelFontSize":10.5,"tickColor":"#8c8c8c","tickSize":3,"tickOpacity":{"condition":{"test":"round(datum.value*20)%2==1","value":0},"value":1},"domain":false,"grid":true,"gridColor":"#ffffff","gridWidth":{"condition":{"test":"round(datum.value*20)%2==1","value":0.5},"value":1.1},"labelPadding":1,"labelFlush":false}},
           "y":{"field":"y1","type":"quantitative","title":"Minor allele fraction in NGS","scale":{"domain":[-0.018,0.421],"nice":false,"zero":false},
            "axis":{"title":"Minor allele fraction in NGS","titleFontSize":11,"titleFontWeight":"normal","titleColor":"black","titlePadding":1,"values":[0,0.05,0.1,0.15,0.2,0.25,0.3,0.35,0.4],"tickCount":100,"labelExpr":"round(datum.value*20)%2==0 ? format(datum.value,'.1f') : ''","labelOverlap":false,"labelColor":"#8c8c8c","labelFontSize":10.5,"tickColor":"#8c8c8c","tickSize":3,"tickOpacity":{"condition":{"test":"round(datum.value*20)%2==1","value":0},"value":1},"domain":false,"grid":true,"gridColor":"#ffffff","gridWidth":{"condition":{"test":"round(datum.value*20)%2==1","value":0.5},"value":1.1},"labelPadding":1,"labelFlush":false}},
           "x2":{"field":"x2"},"y2":{"field":"y2"}}},
         {"data":{"name":"iData"},"mark":{"type":"circle","color":"black","opacity":1},
          "encoding":{
           "x":{"field":"pyro","type":"quantitative","title":"Minor allele fraction in pyrosequencing"},
           "y":{"field":"ngs","type":"quantitative","title":"Minor allele fraction in NGS"},
           "size":{"field":"depth","type":"quantitative","title":["NGS","depth"],"scale":{"domain":[50,110],"range":[9,64],"zero":false},
            "legend":{"orient":"none","legendX":178,"legendY":42,"values":[50,70,90,110],"titleFontSize":11.5,"titleFontWeight":"bold","titleColor":"black","titleLineHeight":14,"titlePadding":1,"labelFontSize":11.5,"labelColor":"black","symbolFillColor":"black","symbolStrokeWidth":0,"symbolType":"circle","rowPadding":0,"padding":0,"labelOffset":3}}}}
        ]
       }
      ]
     }
    ]
   }
  ]
 }
]
}
